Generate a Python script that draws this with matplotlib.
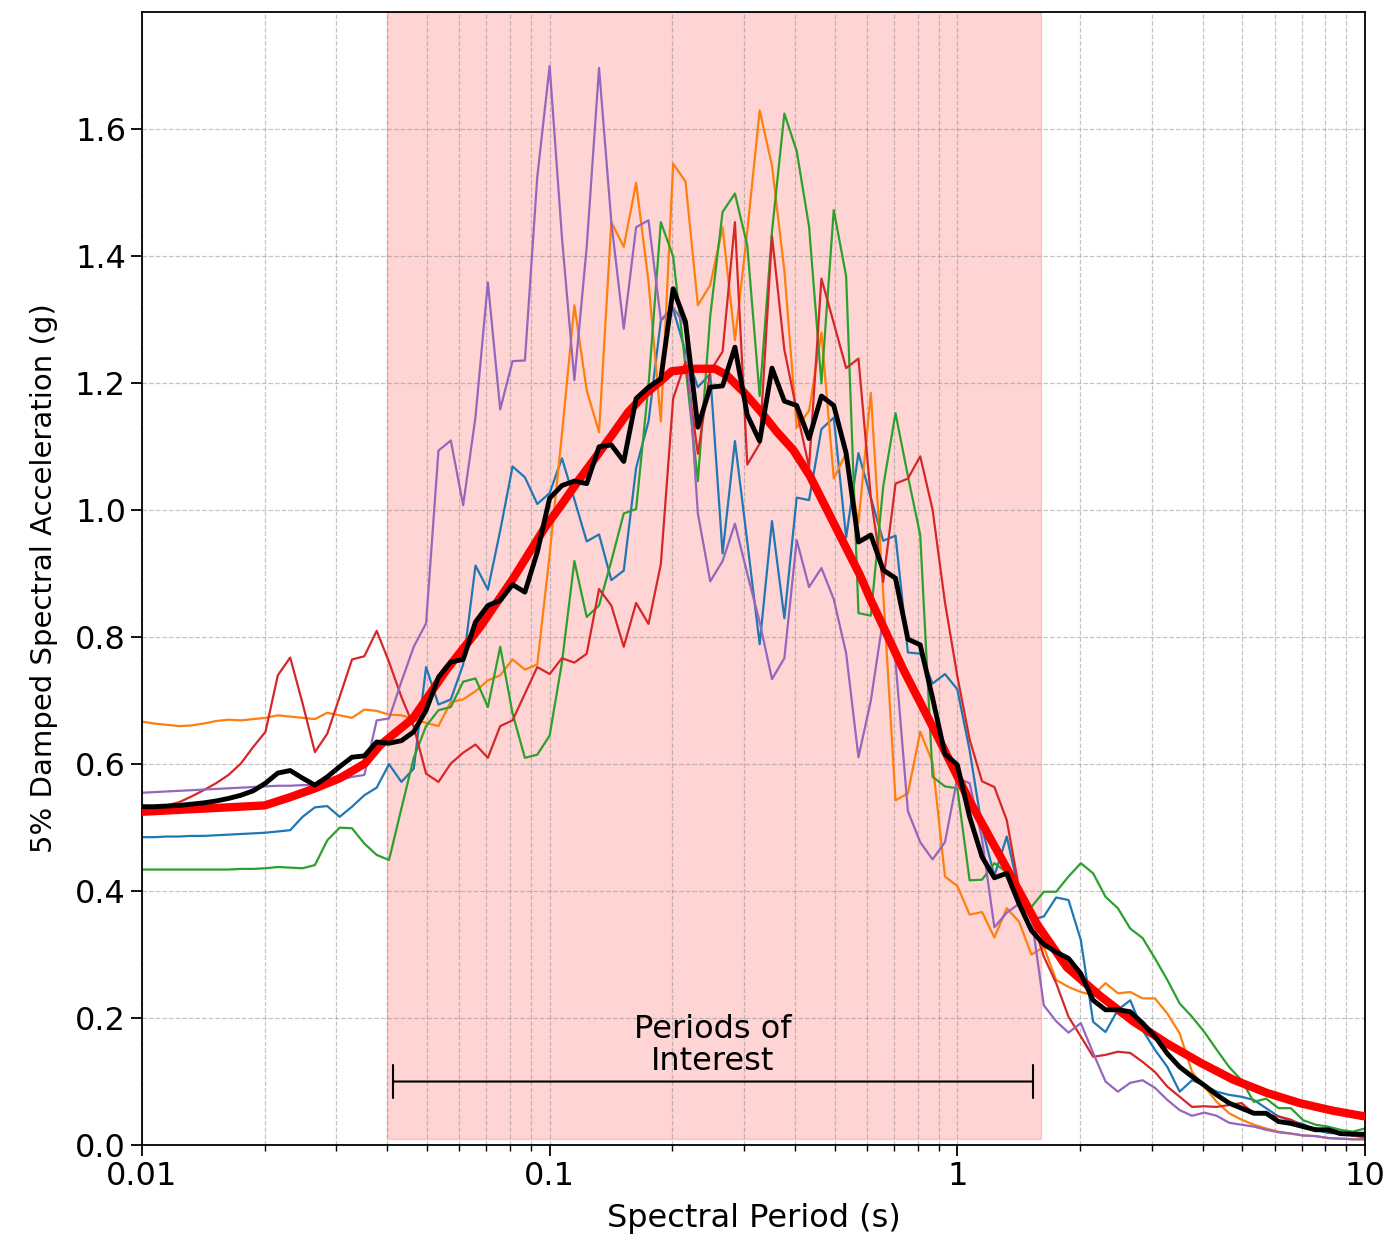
import matplotlib
matplotlib.use("Agg")
import matplotlib.pyplot as plt

# spectral periods (s) shared by the five records and their mean
periods = [
    0.01, 0.01072, 0.0115, 0.01233, 0.01322, 0.01417, 0.0152, 0.0163, 0.01748, 0.01874,
    0.02009, 0.02154, 0.0231, 0.02477, 0.02656, 0.02848, 0.03054, 0.03275, 0.03511, 0.03765,
    0.04037, 0.04329, 0.04642, 0.04977, 0.05337, 0.05722, 0.06136, 0.06579, 0.07055, 0.07565,
    0.08111, 0.08697, 0.09326, 0.1, 0.1072, 0.115, 0.1233, 0.1322, 0.1417, 0.152,
    0.163, 0.1748, 0.1874, 0.2009, 0.2154, 0.231, 0.2477, 0.2656, 0.2848, 0.3054,
    0.3275, 0.3511, 0.3765, 0.4037, 0.4329, 0.4642, 0.4977, 0.5337, 0.5722, 0.6136,
    0.6579, 0.7055, 0.7565, 0.8111, 0.8697, 0.9326, 1.0, 1.072, 1.15, 1.233,
    1.322, 1.417, 1.52, 1.63, 1.748, 1.874, 2.009, 2.154, 2.31, 2.477,
    2.656, 2.848, 3.054, 3.275, 3.511, 3.765, 4.037, 4.329, 4.642, 4.977,
    5.337, 5.722, 6.136, 6.579, 7.055, 7.565, 8.111, 8.697, 9.326, 10.0,
]

rec_blue = [
    0.485, 0.485, 0.486, 0.486, 0.487, 0.487, 0.488, 0.489, 0.490, 0.491,
    0.492, 0.494, 0.496, 0.517, 0.532, 0.534, 0.517, 0.533, 0.551, 0.563,
    0.600, 0.572, 0.593, 0.753, 0.694, 0.702, 0.757, 0.913, 0.875, 0.968,
    1.069, 1.052, 1.010, 1.027, 1.082, 1.017, 0.951, 0.962, 0.890, 0.905,
    1.067, 1.140, 1.299, 1.317, 1.250, 1.194, 1.215, 0.932, 1.109, 0.950,
    0.789, 0.983, 0.830, 1.020, 1.016, 1.128, 1.146, 0.957, 1.090, 1.020,
    0.952, 0.960, 0.776, 0.774, 0.727, 0.742, 0.718, 0.622, 0.500, 0.424,
    0.486, 0.400, 0.355, 0.360, 0.390, 0.386, 0.323, 0.194, 0.178, 0.213,
    0.228, 0.181, 0.150, 0.123, 0.084, 0.102, 0.094, 0.084, 0.079, 0.076,
    0.071, 0.058, 0.045, 0.038, 0.033, 0.024, 0.019, 0.018, 0.017, 0.016,
]

rec_orange = [
    0.667, 0.664, 0.662, 0.660, 0.661, 0.664, 0.668, 0.670, 0.669, 0.671,
    0.673, 0.677, 0.675, 0.673, 0.671, 0.681, 0.677, 0.673, 0.686, 0.684,
    0.678, 0.677, 0.671, 0.665, 0.660, 0.698, 0.702, 0.715, 0.732, 0.740,
    0.765, 0.749, 0.757, 0.930, 1.120, 1.323, 1.189, 1.123, 1.454, 1.415,
    1.516, 1.360, 1.140, 1.546, 1.518, 1.323, 1.355, 1.446, 1.268, 1.440,
    1.630, 1.543, 1.378, 1.130, 1.157, 1.280, 1.050, 1.090, 0.980, 1.185,
    0.870, 0.543, 0.554, 0.651, 0.603, 0.423, 0.408, 0.363, 0.367, 0.327,
    0.373, 0.352, 0.300, 0.312, 0.260, 0.249, 0.241, 0.236, 0.255, 0.239,
    0.241, 0.231, 0.231, 0.207, 0.176, 0.115, 0.092, 0.068, 0.050, 0.040,
    0.032, 0.026, 0.021, 0.018, 0.015, 0.014, 0.011, 0.010, 0.009, 0.009,
]

rec_green = [
    0.434, 0.434, 0.434, 0.434, 0.434, 0.434, 0.434, 0.434, 0.435, 0.435,
    0.436, 0.438, 0.437, 0.436, 0.441, 0.480, 0.500, 0.499, 0.475, 0.457,
    0.449, 0.530, 0.610, 0.660, 0.685, 0.690, 0.730, 0.735, 0.690, 0.785,
    0.680, 0.610, 0.615, 0.645, 0.760, 0.920, 0.832, 0.850, 0.920, 0.995,
    1.002, 1.197, 1.454, 1.400, 1.227, 1.046, 1.306, 1.470, 1.499, 1.417,
    1.180, 1.439, 1.625, 1.566, 1.447, 1.200, 1.473, 1.369, 0.838, 0.834,
    1.037, 1.153, 1.054, 0.961, 0.580, 0.565, 0.562, 0.417, 0.418, 0.444,
    0.430, 0.400, 0.375, 0.399, 0.399, 0.423, 0.444, 0.428, 0.391, 0.373,
    0.341, 0.326, 0.294, 0.260, 0.223, 0.202, 0.178, 0.150, 0.123, 0.102,
    0.068, 0.073, 0.058, 0.058, 0.039, 0.032, 0.029, 0.024, 0.021, 0.026,
]

rec_red = [
    0.530, 0.532, 0.535, 0.540, 0.549, 0.559, 0.570, 0.583, 0.601, 0.627,
    0.651, 0.740, 0.768, 0.696, 0.619, 0.648, 0.706, 0.765, 0.770, 0.810,
    0.761, 0.706, 0.659, 0.585, 0.572, 0.601, 0.618, 0.631, 0.610, 0.660,
    0.669, 0.711, 0.753, 0.742, 0.767, 0.760, 0.774, 0.876, 0.850, 0.785,
    0.854, 0.821, 0.915, 1.176, 1.234, 1.089, 1.219, 1.250, 1.454, 1.072,
    1.105, 1.432, 1.253, 1.157, 1.068, 1.365, 1.295, 1.224, 1.239, 1.020,
    0.887, 1.042, 1.050, 1.085, 1.001, 0.855, 0.739, 0.639, 0.573, 0.564,
    0.512, 0.405, 0.360, 0.297, 0.255, 0.202, 0.171, 0.139, 0.142, 0.147,
    0.145, 0.131, 0.115, 0.092, 0.076, 0.060, 0.061, 0.060, 0.063, 0.066,
    0.050, 0.048, 0.045, 0.040, 0.030, 0.026, 0.022, 0.019, 0.015, 0.012,
]

rec_purple = [
    0.555, 0.556, 0.557, 0.558, 0.559, 0.560, 0.561, 0.562, 0.563, 0.564,
    0.565, 0.566, 0.566, 0.567, 0.567, 0.570, 0.575, 0.580, 0.583, 0.669,
    0.672, 0.730, 0.785, 0.822, 1.094, 1.110, 1.008, 1.147, 1.359, 1.159,
    1.235, 1.236, 1.525, 1.700, 1.430, 1.205, 1.415, 1.697, 1.454, 1.286,
    1.446, 1.457, 1.300, 1.320, 1.290, 0.995, 0.888, 0.920, 0.979, 0.900,
    0.824, 0.734, 0.767, 0.953, 0.879, 0.909, 0.860, 0.775, 0.611, 0.700,
    0.830, 0.762, 0.526, 0.477, 0.450, 0.477, 0.578, 0.570, 0.482, 0.343,
    0.366, 0.380, 0.360, 0.220, 0.195, 0.177, 0.192, 0.145, 0.100, 0.084,
    0.098, 0.102, 0.090, 0.071, 0.055, 0.046, 0.051, 0.046, 0.035, 0.032,
    0.029, 0.024, 0.020, 0.018, 0.015, 0.014, 0.011, 0.010, 0.009, 0.009,
]

mean_sa = [
    0.533, 0.533, 0.534, 0.535, 0.537, 0.539, 0.542, 0.546, 0.551, 0.558,
    0.570, 0.586, 0.590, 0.578, 0.567, 0.580, 0.596, 0.611, 0.613, 0.635,
    0.633, 0.637, 0.651, 0.685, 0.737, 0.761, 0.765, 0.824, 0.850, 0.858,
    0.883, 0.871, 0.934, 1.019, 1.039, 1.046, 1.042, 1.100, 1.103, 1.077,
    1.176, 1.194, 1.207, 1.349, 1.297, 1.131, 1.194, 1.196, 1.257, 1.150,
    1.109, 1.224, 1.172, 1.165, 1.113, 1.180, 1.165, 1.090, 0.950, 0.961,
    0.906, 0.893, 0.797, 0.788, 0.704, 0.616, 0.599, 0.517, 0.454, 0.421,
    0.428, 0.380, 0.338, 0.316, 0.304, 0.294, 0.270, 0.228, 0.213, 0.213,
    0.210, 0.192, 0.171, 0.144, 0.123, 0.108, 0.094, 0.079, 0.066, 0.058,
    0.050, 0.050, 0.037, 0.034, 0.029, 0.024, 0.024, 0.018, 0.017, 0.017,
]

# target spectrum
target_periods = [
    0.01, 0.02, 0.0231, 0.0266, 0.0306, 0.0352, 0.0384, 0.0462, 0.0559, 0.0675,
    0.0813, 0.0974, 0.107, 0.1174, 0.1292, 0.142, 0.1556, 0.1713, 0.1883, 0.1992,
    0.2273, 0.2544, 0.2718, 0.2985, 0.328, 0.3605, 0.396, 0.435, 0.478, 0.525,
    0.577, 0.611, 0.736, 0.891, 1.074, 1.294, 1.568, 1.857, 2.239, 2.698,
    3.268, 3.94, 4.75, 5.75, 6.92, 8.34, 10.0,
]
target_sa = [
    0.525, 0.535, 0.548, 0.562, 0.578, 0.601, 0.630, 0.672, 0.749, 0.816,
    0.892, 0.973, 1.009, 1.046, 1.082, 1.118, 1.154, 1.183, 1.205, 1.219,
    1.223, 1.223, 1.213, 1.187, 1.157, 1.124, 1.095, 1.054, 1.002, 0.950,
    0.898, 0.861, 0.750, 0.646, 0.541, 0.447, 0.348, 0.280, 0.235, 0.195,
    0.160, 0.130, 0.103, 0.082, 0.066, 0.054, 0.045,
]

band = (0.04, 1.6)            # shaded period range
bar_ends = (0.0413, 1.53)     # "Periods of Interest" bar
records = [
    (rec_blue, "tab:blue"),
    (rec_orange, "tab:orange"),
    (rec_green, "tab:green"),
    (rec_red, "tab:red"),
    (rec_purple, "tab:purple"),
]

fig = plt.figure(figsize=(13.89, 12.42), dpi=100)
ax = fig.add_axes([0.1022, 0.0781, 0.8805, 0.9122])

ax.axvspan(band[0], band[1], ymin=0.005, ymax=1, color="red", alpha=0.17, zorder=0)

for values, color in records:
    ax.plot(periods, values, color=color, lw=1.6, zorder=2)

ax.plot(target_periods, target_sa, color="red", lw=6, zorder=3)
ax.plot(periods, mean_sa, color="black", lw=3.5, zorder=4)

ax.annotate("", xy=(bar_ends[0], 0.1), xytext=(bar_ends[1], 0.1),
            arrowprops=dict(arrowstyle="|-|", color="black", lw=1.5,
                            shrinkA=0, shrinkB=0, mutation_scale=12))
ax.text(0.2515, 0.157, "Periods of\nInterest", ha="center", va="center",
        fontsize=23, linespacing=1.05)

ax.set_xscale("log")
ax.set_xlim(0.01, 10)
ax.set_ylim(0, 1.785)
ax.set_xticks([0.01, 0.1, 1, 10])
ax.set_xticklabels(["0.01", "0.1", "1", "10"])
ax.set_yticks([0.0, 0.2, 0.4, 0.6, 0.8, 1.0, 1.2, 1.4, 1.6])
ax.set_yticklabels(["0.0", "0.2", "0.4", "0.6", "0.8", "1.0", "1.2", "1.4", "1.6"])

ax.grid(True, which="both", axis="x", ls="--", color="gray", alpha=0.45, lw=0.9)
ax.grid(True, which="major", axis="y", ls="--", color="gray", alpha=0.45, lw=0.9)

ax.tick_params(axis="both", which="major", labelsize=23, length=8, width=1.3)
ax.tick_params(axis="x", which="minor", length=4.5, width=1.0)
for spine in ax.spines.values():
    spine.set_linewidth(1.3)

ax.set_xlabel("Spectral Period (s)", fontsize=23, labelpad=8)
ax.set_ylabel("5% Damped Spectral Acceleration (g)", fontsize=21, labelpad=12)

fig.savefig("out.png", dpi=100)
